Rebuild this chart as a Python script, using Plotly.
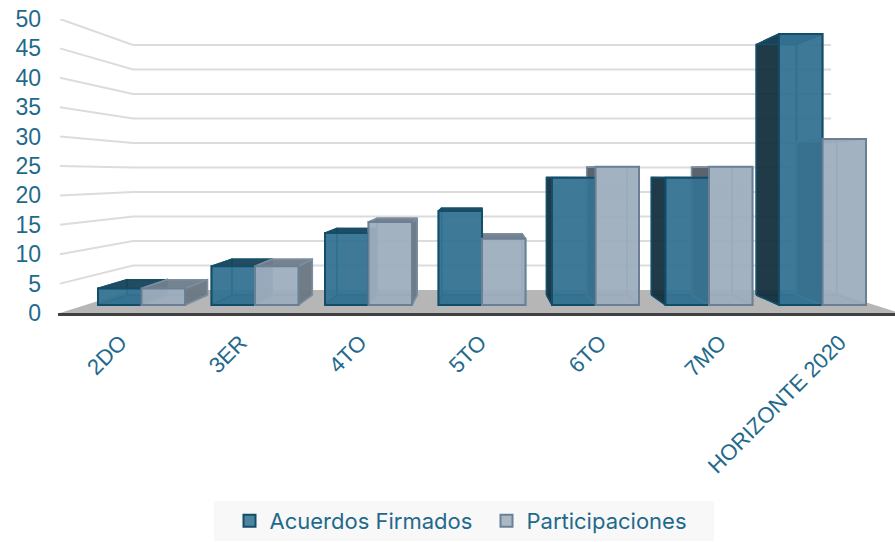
import plotly.graph_objects as go

categories = ["2DO", "3ER", "4TO", "5TO", "6TO", "7MO", "HORIZONTE 2020"]
acuerdos = [3, 7, 13, 17, 23, 23, 49]
participaciones = [3, 7, 15, 12, 25, 25, 30]
value_ticks = [0, 5, 10, 15, 20, 25, 30, 35, 40, 45, 50]

W, H = 895, 542
LEFT, ZERO_Y, TOP_Y = 58, 313, 19
CX = 480
CAT0, CAT_STEP, BAR_W = 141.5, 113.5, 43.5
BACK_K = 0.924
AXIS_K = 1.056
LABEL_SHIFT = -2
FRONT = (305, 5.53)
BACK = (295, 5.11)
WALL = (290, 4.9)
AXIS_S = (ZERO_Y - TOP_Y) / 50

x_lo = (LEFT - CAT0) / CAT_STEP
x_hi = (W - CAT0) / CAT_STEP


def ux(px):
    return (px - CAT0) / CAT_STEP


def uy(py):
    return (ZERO_Y - py) / AXIS_S


TXT = "#1f6a8c"
fig = go.Figure()


def poly(points, fill, line, width=1.5):
    xs = [ux(p[0]) for p in points] + [ux(points[0][0])]
    ys = [uy(p[1]) for p in points] + [uy(points[0][1])]
    fig.add_trace(go.Scatter(x=xs, y=ys, mode="lines", fill="toself", fillcolor=fill,
                             line=dict(color=line, width=width), showlegend=False,
                             hoverinfo="skip"))


# floor
poly([(60, ZERO_Y), (133, WALL[0]), (827, WALL[0]), (900, ZERO_Y)], "#b6b6b6", "#b6b6b6", 0)

# grid lines
for t in value_ticks[1:]:
    gy = WALL[0] - WALL[1] * t
    fig.add_trace(go.Scatter(x=[ux(60), ux(133), ux(831)],
                             y=[t, uy(gy), uy(gy)], mode="lines",
                             line=dict(color="#dcdcdc", width=2), showlegend=False,
                             hoverinfo="skip"))

STY = [
    dict(back="rgba(30,85,112,0.55)", edge="#14506c", left="rgba(25,50,62,0.93)",
         right="rgba(24,78,105,0.85)", top="rgba(24,66,88,0.9)", bot="rgba(30,85,112,0.75)",
         front="rgba(52,116,148,0.88)", fedge="#134d69"),
    dict(back="rgba(150,166,182,0.55)", edge="#7c8fa2", left="rgba(80,88,96,0.9)",
         right="rgba(108,120,130,0.95)", top="rgba(110,124,138,0.92)", bot="rgba(150,166,182,0.7)",
         front="rgba(158,174,190,0.88)", fedge="#6b8095"),
]


def box(x0, v, s):
    x1 = x0 + BAR_W
    bx0 = CX + (x0 - CX) * BACK_K
    bx1 = CX + (x1 - CX) * BACK_K
    fb, ft = FRONT[0], FRONT[0] - FRONT[1] * v
    bb, bt = BACK[0], BACK[0] - BACK[1] * v
    poly([(bx0, bb), (bx1, bb), (bx1, bt), (bx0, bt)], s["back"], s["edge"])
    poly([(bx0, bb), (bx1, bb), (x1, fb), (x0, fb)], s["bot"], s["edge"])
    poly([(bx0, bb), (bx0, bt), (x0, ft), (x0, fb)], s["left"] if x0 > CX else s["back"], s["edge"])
    poly([(bx1, bb), (bx1, bt), (x1, ft), (x1, fb)], s["right"] if x1 < CX else s["back"], s["edge"])
    poly([(bx0, bt), (bx1, bt), (x1, ft), (x0, ft)], s["top"], s["edge"])


for i in range(len(categories)):
    c = CAT0 + CAT_STEP * i
    box(c - BAR_W, acuerdos[i], STY[0])
    box(c, participaciones[i], STY[1])

# front faces, real bars on an overlaid axis pair
base_u = uy(FRONT[0])
scale_u = FRONT[1] / AXIS_S
for name, vals, s in (("Acuerdos Firmados", acuerdos, STY[0]),
                      ("Participaciones", participaciones, STY[1])):
    fig.add_trace(go.Bar(x=list(range(len(categories))), y=[v * scale_u for v in vals],
                         base=base_u, name=name, xaxis="x2", yaxis="y2",
                         marker=dict(color=s["front"], line=dict(color=s["fedge"], width=2)),
                         customdata=vals, hovertemplate="%{customdata}<extra>" + name + "</extra>"))

tickvals = [ux(CX + (CAT0 + CAT_STEP * i - CX) * AXIS_K + LABEL_SHIFT) for i in range(len(categories))]

fig.update_layout(
    width=W, height=H, autosize=False,
    margin=dict(l=LEFT, r=0, t=TOP_Y, b=H - ZERO_Y),
    paper_bgcolor="white", plot_bgcolor="rgba(0,0,0,0)",
    font=dict(family="Liberation Sans", size=22, color=TXT),
    barmode="group", bargap=1 - 2 * BAR_W / CAT_STEP, bargroupgap=0,
    xaxis=dict(range=[x_lo, x_hi], tickmode="array", tickvals=tickvals, ticktext=categories,
               tickangle=-45, showgrid=False, zeroline=False, showline=True,
               linecolor="#404040", linewidth=3, ticks="", ticklabelstandoff=5,
               tickfont=dict(size=22, color=TXT)),
    yaxis=dict(range=[0, 50], tickmode="array", tickvals=value_ticks, showgrid=False,
               zeroline=False, showline=False, ticks="", ticklabelstandoff=16,
               tickfont=dict(size=23, color=TXT)),
    xaxis2=dict(range=[x_lo, x_hi], overlaying="x", visible=False),
    yaxis2=dict(range=[0, 50], overlaying="y", visible=False),
    legend=dict(orientation="h", xref="paper", yref="paper", xanchor="left", yanchor="middle",
                x=(229.5 - LEFT) / (W - LEFT), y=-(521 - ZERO_Y) / (ZERO_Y - TOP_Y),
                bgcolor="rgba(0,0,0,0)", borderwidth=0, entrywidth=212, entrywidthmode="pixels",
                font=dict(family="Inter", size=22, color=TXT), itemsizing="constant"),
    shapes=[dict(type="rect", xref="paper", yref="paper", layer="below",
                 x0=(214 - LEFT) / (W - LEFT), x1=(714 - LEFT) / (W - LEFT),
                 y0=-(541 - ZERO_Y) / (ZERO_Y - TOP_Y), y1=-(501 - ZERO_Y) / (ZERO_Y - TOP_Y),
                 fillcolor="#f8f8f8", line=dict(width=0))],
)

fig.write_html("out.html", config=dict(displayModeBar=False),
               post_script="document.body.style.margin='0';")
